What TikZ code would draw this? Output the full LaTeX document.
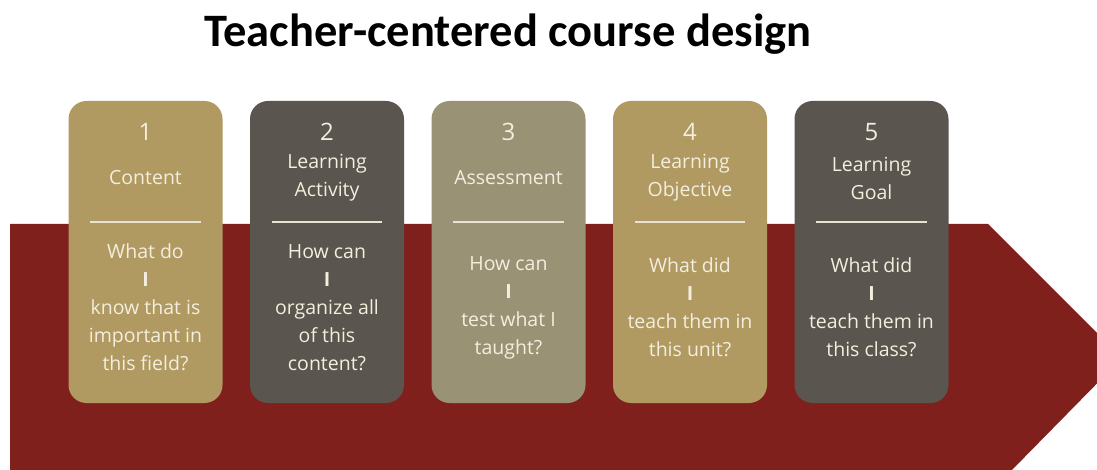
\documentclass[tikz,border=0pt]{standalone}
\usepackage{fontspec}
\setmainfont{Open Sans}
\newfontfamily\titlefont{Carlito}
\definecolor{arrowred}{RGB}{128,32,28}
\definecolor{goldbox}{RGB}{176,154,98}
\definecolor{darkbox}{RGB}{90,85,78}
\definecolor{olivebox}{RGB}{154,146,117}
\definecolor{creamtxt}{RGB}{244,238,222}
\tikzset{
  boxst/.style={rounded corners=18pt, minimum width=154pt, minimum height=302pt, inner sep=0pt},
  txtst/.style={text=creamtxt, align=center, inner sep=0pt, font=\fontsize{19.5}{28}\selectfont},
  numst/.style={txtst, font=\fontsize{24}{28}\selectfont},
  sepst/.style={draw=creamtxt!90!gray, line width=2pt},
}
\newcommand\coursebox[6]{%
  \node[boxst, fill=#3] (#1) at (#2,252) {};
  \node[numst] (#1num) at (#2,132) {#4};
  \node[txtst] (#1head) at (#2,178) {#5};
  \coordinate (#1sl) at ([xshift=22pt]#1.west |- 0,222);
  \coordinate (#1sr) at ([xshift=-22pt]#1.east |- 0,222);
  \draw[sepst] (#1sl) -- (#1sr);
  \node[txtst] (#1body) at (#2,307.5) {#6};
}
\begin{document}
\begin{tikzpicture}[x=1pt,y=-1pt]
\useasboundingbox (0,0) rectangle (1097,470);
\fill[white] (0,0) rectangle (1097,470);
\begin{scope}
\clip (0,0) rectangle (1097,470);
\fill[arrowred] (10,224) -- (988,224) -- (1122,358) -- (1010,472) -- (10,472) -- cycle;
\end{scope}
\node[font=\titlefont\bfseries\fontsize{46.5}{50}\selectfont, anchor=base] (title) at (508,47) {Teacher-centered course design};
\coursebox{b1}{145.5}{goldbox}{1}{Content}{What do\\\textbf{I}\\know that is\\important in\\this field?}
\coursebox{b2}{327}{darkbox}{2}{Learning\\Activity}{How can\\\textbf{I}\\organize all\\of this\\content?}
\coursebox{b3}{508.5}{olivebox}{3}{Assessment}{How can\\\textbf{I}\\test what I\\taught?}
\coursebox{b4}{690}{goldbox}{4}{Learning\\Objective}{What did\\\textbf{I}\\teach them in\\this unit?}
\coursebox{b5}{871.5}{darkbox}{5}{Learning\\Goal}{What did\\\textbf{I}\\teach them in\\this class?}
\end{tikzpicture}
\end{document}
